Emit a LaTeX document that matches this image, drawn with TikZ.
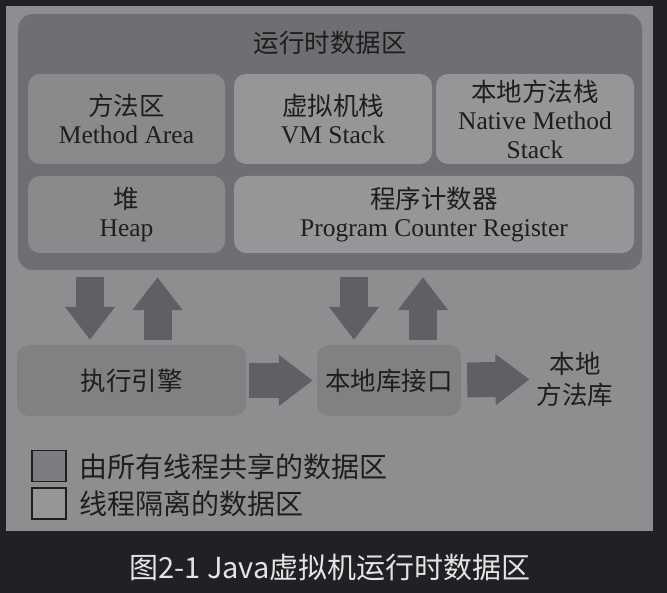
\documentclass[tikz,border=0pt]{standalone}
\usepackage{fontspec}
\setmainfont{Liberation Serif}
\newfontfamily\cjk{Noto Sans CJK SC}
\usetikzlibrary{arrows.meta}

\begin{document}
\begin{tikzpicture}[x=1pt, y=-1pt]
    % Define colors
    \definecolor{bgcolor}{RGB}{32, 33, 36}
    \definecolor{panelcolor}{RGB}{141, 142, 144}
    \definecolor{rtcolor}{RGB}{110, 111, 114}
    \definecolor{sharedcolor}{RGB}{137, 138, 140}
    \definecolor{threadcolor}{RGB}{149, 150, 152}
    \definecolor{enginecolor}{RGB}{128, 129, 131}
    \definecolor{keycolor}{RGB}{124, 125, 128}
    \definecolor{arrowcolor}{RGB}{95, 96, 99}
    \definecolor{textcolor}{RGB}{30, 30, 30}
    \definecolor{captioncolor}{RGB}{228, 228, 228}

    \tikzset{
        area/.style={rounded corners=12pt, text=textcolor, align=center, inner sep=0pt,
            font=\fontsize{25.5}{28.5}\selectfont},
        varrow/.style={draw=arrowcolor, line width=28pt, -{Triangle[width=48pt, length=33pt]}},
        harrow/.style={draw=arrowcolor, line width=35pt, -{Triangle[width=49pt, length=34pt]}},
        keybox/.style={draw=textcolor, line width=1.5pt, minimum width=34pt, minimum height=31pt},
        keytext/.style={anchor=west, text=textcolor, font=\cjk\fontsize{28}{30}\selectfont}
    }

    % Background and panel
    \useasboundingbox (0,0) rectangle (667,593);
    \fill[bgcolor] (0,0) rectangle (667,593);
    \fill[panelcolor] (6,6) rectangle (653,531);

    % Runtime data area
    \node[fill=rtcolor, rounded corners=15pt, minimum width=624pt, minimum height=256pt] (rt) at (330,142) {};
    \node[area] (rttitle) at (330,43) {\cjk 运行时数据区};

    % Shared and per-thread areas
    \node[area, fill=sharedcolor, minimum width=197pt, minimum height=90pt] (method) at (126.5,119) {{\cjk 方法区}\\Method Area};
    \node[area, fill=threadcolor, minimum width=198pt, minimum height=90pt] (vmstack) at (333,119) {{\cjk 虚拟机栈}\\VM Stack};
    \node[area, fill=threadcolor, minimum width=198pt, minimum height=90pt] (native) at (535,119) {{\cjk 本地方法栈}\\Native Method\\Stack};
    \node[area, fill=sharedcolor, minimum width=197pt, minimum height=77pt] (heap) at (126.5,214.5) {{\cjk 堆}\\Heap};
    \node[area, fill=threadcolor, minimum width=400pt, minimum height=77pt] (pc) at (434,214.5) {{\cjk 程序计数器}\\Program Counter Register};

    % Execution engine, native interface and native library
    \node[area, fill=enginecolor, minimum width=229pt, minimum height=71pt] (engine) at (131.5,380.5) {\cjk 执行引擎};
    \node[area, fill=enginecolor, minimum width=144pt, minimum height=71pt] (iface) at (389,380.5) {\cjk 本地库接口};
    \node[area, font=\cjk\fontsize{25.5}{31}\selectfont] (natlib) at (575,379) {本地\\方法库};

    % Data flow arrows
    \draw[varrow, shorten <=7pt, shorten >=5pt] ([xshift=-41.5pt]engine.north |- rt.south) -- ([xshift=-41.5pt]engine.north);
    \draw[varrow, shorten <=5pt, shorten >=7pt] ([xshift=26pt]engine.north) -- ([xshift=26pt]engine.north |- rt.south);
    \draw[varrow, shorten <=7pt, shorten >=5pt] ([xshift=-35pt]iface.north |- rt.south) -- ([xshift=-35pt]iface.north);
    \draw[varrow, shorten <=5pt, shorten >=7pt] ([xshift=34pt]iface.north) -- ([xshift=34pt]iface.north |- rt.south);
    \draw[harrow, shorten <=3pt, shorten >=4pt] (engine) -- (iface);
    \draw[harrow, shorten <=6pt, shorten >=7pt] (iface) -- (natlib);

    % Legend
    \node[keybox, fill=keycolor] (sharedkey) at (49,466) {};
    \node[keybox, fill=threadcolor] (threadkey) at (49,503.5) {};
    \node[keytext] (sharedtext) at (76,467) {由所有线程共享的数据区};
    \node[keytext] (threadtext) at (76,503.5) {线程隔离的数据区};

    % Caption
    \node[text=captioncolor, font=\cjk\fontsize{29}{31}\selectfont] (caption) at (330,568) {图2-1 Java虚拟机运行时数据区};
\end{tikzpicture}
\end{document}
